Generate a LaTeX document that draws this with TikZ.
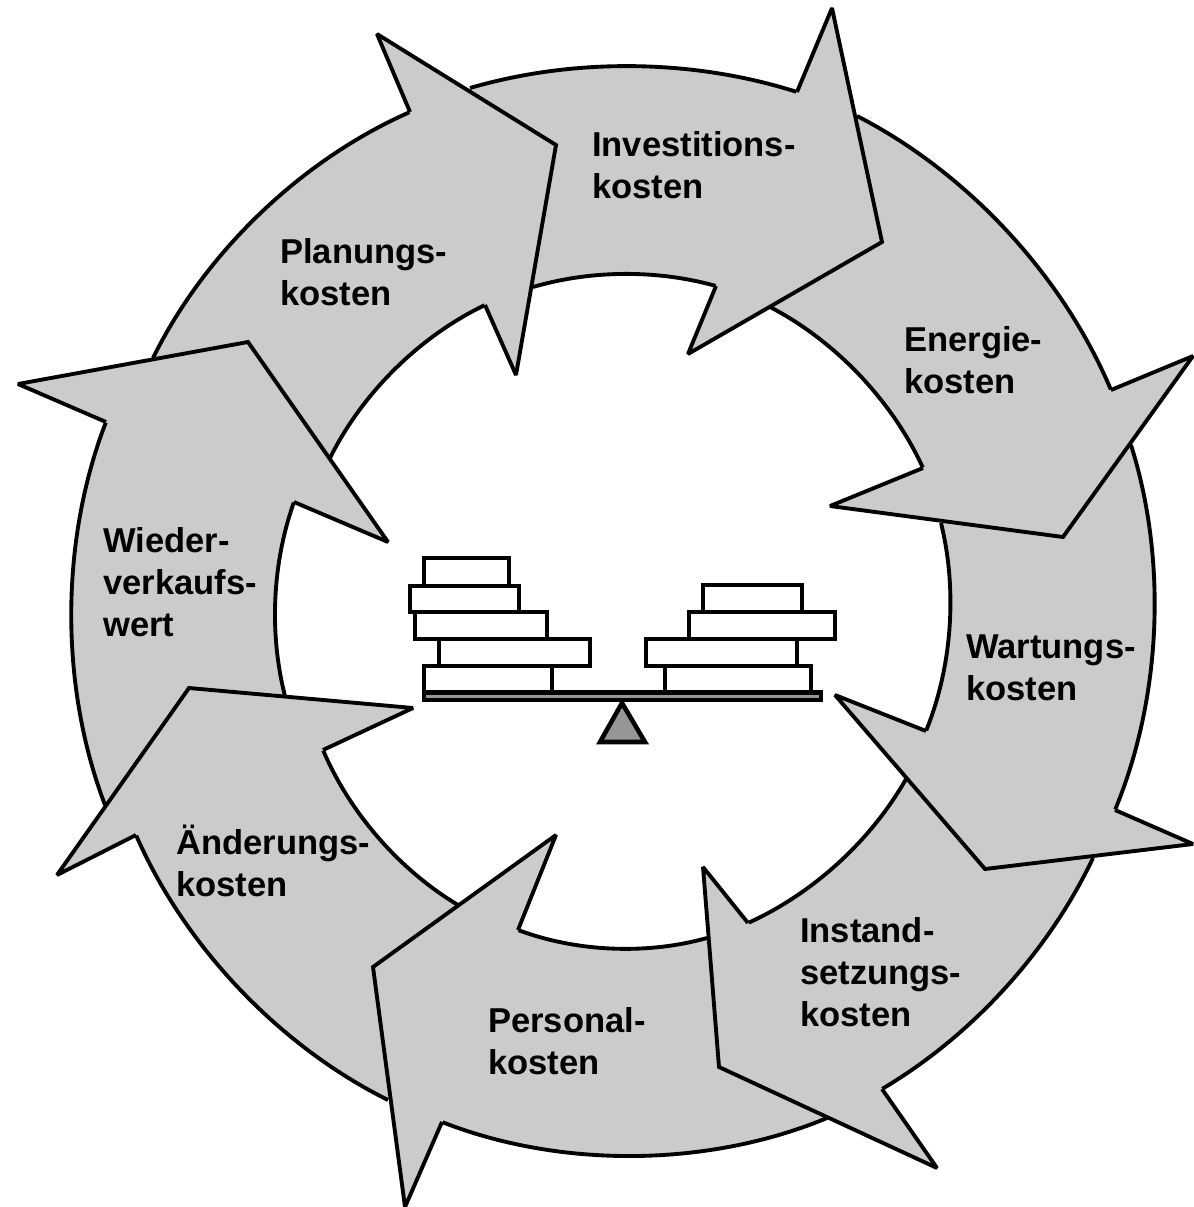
\documentclass[tikz,border=0pt]{standalone}
\usepackage{fontspec}
\setmainfont{Liberation Sans}
\definecolor{ringgray}{RGB}{203,203,203}
\definecolor{pivotgray}{RGB}{150,150,150}
\newcommand{\arrowbody}[6]{% tail outer, notch outer, bend outer, notch inner, tail inner, bend inner
  \fill[ringgray] (#1) to[bend left=#3,looseness=.85] (#2) -- (#4) to[bend right=#6,looseness=.85] (#5) -- cycle;
  \draw[outl] (#1) to[bend left=#3,looseness=.85] (#2);
  \draw[outl] (#5) to[bend left=#6,looseness=.85] (#4);
}
\newcommand{\arrowhead}[5]{%
  \filldraw[fill=ringgray,draw=ringgray,line width=.6pt] (#1) -- (#2) -- (#3) -- (#4) -- (#5) -- cycle;
  \draw[outl] (#1) -- (#2) -- (#3) -- (#4) -- (#5);
}
\tikzset{
  outl/.style={draw=black,line width=2.9pt,line join=miter,miter limit=3},
  stackbox/.style={draw=black,fill=white,line width=3.4pt,line join=miter},
  lbl/.style={font=\fontsize{25.9pt}{31.5pt}\selectfont\bfseries,align=left,anchor=base west,inner sep=0pt,text=black}
}
\begin{document}
\begin{tikzpicture}[x=0.75pt,y=-0.75pt]
\useasboundingbox (0,0) rectangle (1194,1207);
% bodies
\arrowbody{470,88}{797,92}{17}{716,286}{533,287}{16}
\arrowbody{857,116}{1111,390}{20}{923,468}{770,307}{19}
\arrowbody{1131,445}{1115,810}{20}{926,731}{941,523}{18}
\arrowbody{1093,858}{882,1089}{17}{748,923}{906,779}{18}
\arrowbody{827,1118}{442,1122}{22}{518,930}{707,938}{18}
\arrowbody{388,1100}{136,835}{20}{323,750}{458,905}{18}
\arrowbody{105,805}{106,422}{21}{294,502}{285,696}{17}
\arrowbody{153,358}{410,112}{20}{485,305}{330,458}{19}
% heads
\arrowhead{797,92}{832,8}{882,242}{688,354}{716,286}
\arrowhead{1111,390}{1193,356}{1063,537}{830,506}{923,468}
\arrowhead{1115,810}{1193,844}{985,869}{835,695}{926,731}
\arrowhead{882,1089}{937,1168}{719,1067}{703,867}{748,923}
\arrowhead{442,1122}{405,1207}{373,967}{556,835}{518,930}
\arrowhead{136,835}{57,875}{189,688}{413,708}{323,750}
\arrowhead{106,422}{18,384}{248,342}{388,542}{294,502}
\arrowhead{410,112}{377,34}{556,145}{516,375}{485,305}
% labels
\node[lbl] (inv) at (592,198) {Investitions-\\kosten};
\node[lbl] (ene) at (904,393) {Energie-\\kosten};
\node[lbl] (war) at (966,700) {Wartungs-\\kosten};
\node[lbl] (ins) at (800,1026) {Instand-\\setzungs-\\kosten};
\node[lbl] (per) at (488,1074) {Personal-\\kosten};
\node[lbl] (aen) at (176,896) {Änderungs-\\kosten};
\node[lbl] (wie) at (103,636) {Wieder-\\verkaufs-\\wert};
\node[lbl] (pla) at (280,305) {Planungs-\\kosten};
% balance
\draw[stackbox] (424,558) rectangle (509,586);
\draw[stackbox] (410,586) rectangle (519,612);
\draw[stackbox] (415,612) rectangle (547,639);
\draw[stackbox] (439,639) rectangle (590,666);
\draw[stackbox] (424,666) rectangle (552,692);
\draw[stackbox] (703,585) rectangle (802,612);
\draw[stackbox] (689,612) rectangle (835,639);
\draw[stackbox] (646,639) rectangle (797,666);
\draw[stackbox] (665,666) rectangle (811,692);
\draw[stackbox,fill=pivotgray] (424,692.5) rectangle (821,700);
\draw[stackbox,fill=pivotgray] (622,703) -- (645,742) -- (600,742) -- cycle;
\end{tikzpicture}
\end{document}
